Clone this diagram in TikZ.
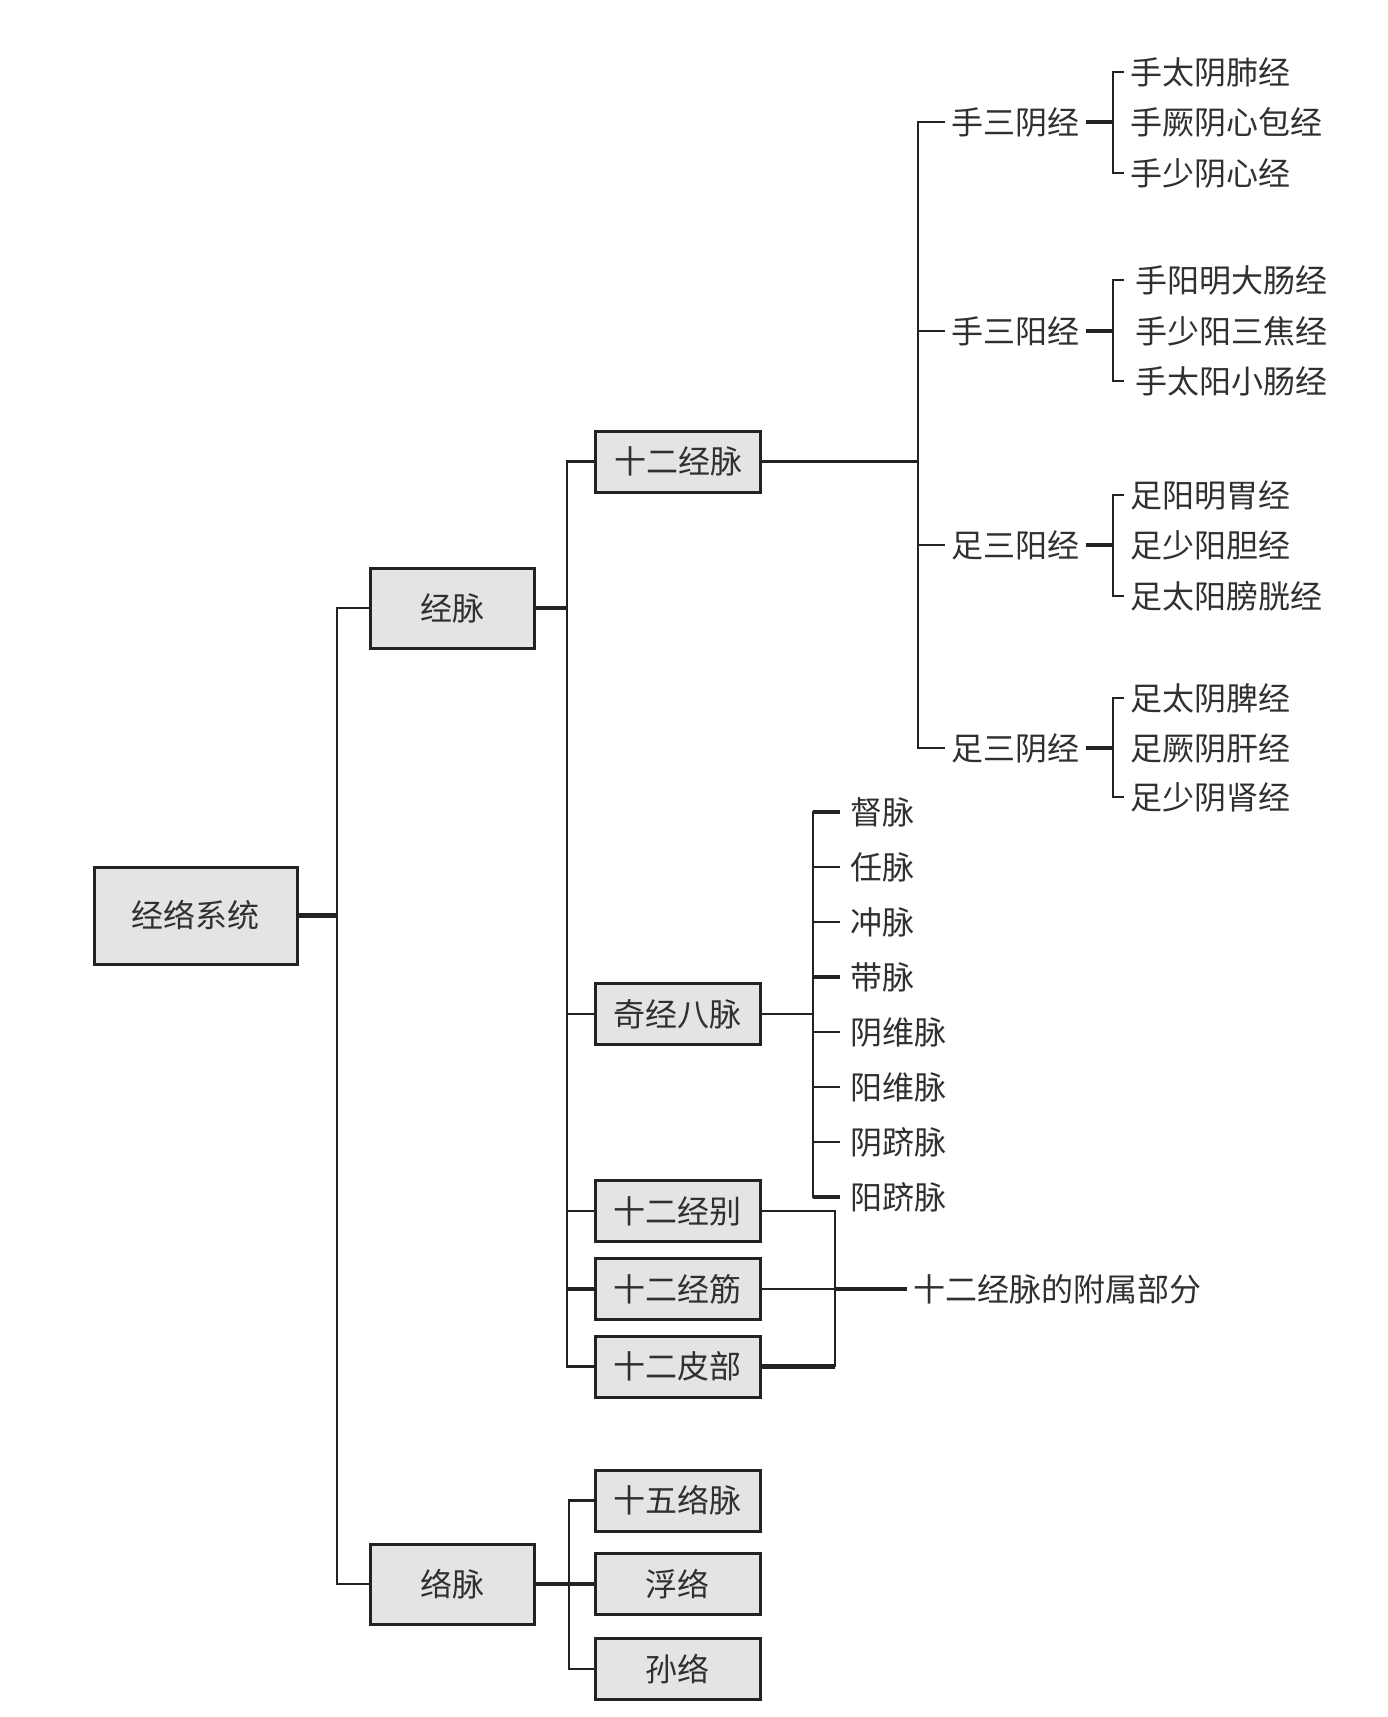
\documentclass[tikz,border=0pt]{standalone}
\usepackage{fontspec}
\setmainfont{Noto Sans CJK SC}
\definecolor{ln}{HTML}{222222}
\definecolor{bx}{HTML}{E3E4E6}
\definecolor{tx}{HTML}{303030}
\begin{document}
\begin{tikzpicture}[x=0.5pt,y=-0.5pt,
  txtfont/.style={font=\fontsize{16pt}{18pt}\selectfont, text=tx},
  box/.style={txtfont, draw=ln, line width=1.5pt, fill=bx, minimum width=82.5pt, minimum height=30.5pt, inner sep=0pt},
  midbox/.style={box, minimum width=82pt, minimum height=40pt},
  sysbox/.style={box, minimum width=101.5pt, minimum height=48.5pt},
  lbl/.style={txtfont, inner xsep=3pt, inner ysep=0pt, anchor=west},
  wire/.style={draw=ln, line width=1.25pt},
  wirebold/.style={draw=ln, line width=2.2pt}]
\useasboundingbox (0,0) rectangle (1387,1717);

% boxes
\node[sysbox] (sys) at (195.5,915.5) {经络系统};
\node[midbox] (jm) at (452,608) {经脉};
\node[midbox] (lm) at (452,1584) {络脉};
\node[box] (sejm) at (678,461.5) {十二经脉};
\node[box] (qj) at (677.5,1014) {奇经八脉};
\node[box] (jb) at (677.5,1211) {十二经别};
\node[box] (jj) at (677.5,1289) {十二经筋};
\node[box] (pb) at (677.5,1366.5) {十二皮部};
\node[box] (swl) at (677.5,1500.5) {十五络脉};
\node[box] (fl) at (677.5,1584) {浮络};
\node[box] (sl) at (677.5,1669) {孙络};

% trunk coordinates
\coordinate (ta) at (337,0);
\coordinate (tb) at (567,0);
\coordinate (tc) at (569,0);
\coordinate (td) at (918,0);
\coordinate (te) at (813,0);
\coordinate (tf) at (835,0);
\coordinate (bk) at (1113,0);
\coordinate (tk) at (1124,0);
\coordinate (tq) at (840,0);

% branch labels of the twelve meridians
\node[lbl] (g1) at (945,122) {手三阴经};
\node[lbl] (g2) at (945,331) {手三阳经};
\node[lbl] (g3) at (945,545) {足三阳经};
\node[lbl] (g4) at (945,748) {足三阴经};

% leaves
\node[lbl] (a1) at (1124,72) {手太阴肺经};
\node[lbl] (a2) at (1124,122) {手厥阴心包经};
\node[lbl] (a3) at (1124,173) {手少阴心经};
\node[lbl] (b1) at (1129,280) {手阳明大肠经};
\node[lbl] (b2) at (1129,331) {手少阳三焦经};
\node[lbl] (b3) at (1129,381) {手太阳小肠经};
\node[lbl] (c1) at (1124,495) {足阳明胃经};
\node[lbl] (c2) at (1124,545) {足少阳胆经};
\node[lbl] (c3) at (1124,596) {足太阳膀胱经};
\node[lbl] (d1) at (1124,698) {足太阴脾经};
\node[lbl] (d2) at (1124,748) {足厥阴肝经};
\node[lbl] (d3) at (1124,797) {足少阴肾经};

% eight extraordinary vessels
\node[lbl] (q1) at (844,812) {督脉};
\node[lbl] (q2) at (844,867) {任脉};
\node[lbl] (q3) at (844,922) {冲脉};
\node[lbl] (q4) at (844,977) {带脉};
\node[lbl] (q5) at (844,1032) {阴维脉};
\node[lbl] (q6) at (844,1087) {阳维脉};
\node[lbl] (q7) at (844,1142) {阴跻脉};
\node[lbl] (q8) at (844,1197) {阳跻脉};

\node[lbl] (fs) at (907,1289) {十二经脉的附属部分};

% level 1
\draw[wirebold] (sys.east) -- (sys.east -| ta);
\draw[wire] (jm.west) -- (jm.west -| ta) -- (lm.west -| ta) -- (lm.west);

% jingmai trunk
\draw[wirebold] (jm.east) -- (jm.east -| tb);
\draw[wire] (sejm.west) -- (sejm.west -| tb) -- (pb.west -| tb) -- (pb.west);
\draw[wire] (qj.west) -- (qj.west -| tb);
\draw[wire] (jb.west) -- (jb.west -| tb);
\draw[wirebold] (jj.west) -- (jj.west -| tb);

% luomai trunk
\draw[wirebold] (lm.east) -- (fl.west);
\draw[wire] (swl.west) -- (swl.west -| tc) -- (sl.west -| tc) -- (sl.west);

% appendages bracket
\draw[wire] (jb.east) -- (jb.east -| tf) -- (pb.east -| tf);
\draw[wirebold] (pb.east) -- (pb.east -| tf);
\draw[wire] (jj.east) -- (jj.east -| tf);
\draw[wirebold] (jj.east -| tf) -- (fs.west);

% twelve meridians
\draw[wire] (sejm.east) -- (sejm.east -| td);
\draw[wire] (g1.west) -- (g1.west -| td) -- (g4.west -| td) -- (g4.west);
\draw[wire] (g2.west -| td) -- (g2.west);
\draw[wire] (g3.west -| td) -- (g3.west);

\foreach \g/\x/\y/\z in {g1/a1/a2/a3, g2/b1/b2/b3, g3/c1/c2/c3, g4/d1/d2/d3}{
  \draw[wirebold] (\g.east) -- (\g.east -| bk);
  \draw[wire] (\x.west -| tk) -- (\x.west -| bk) -- (\z.west -| bk) -- (\z.west -| tk);
}

% eight vessels bracket
\draw[wire] (qj.east) -- (qj.east -| te);
\draw[wire] (q1.west -| tq) -- (q1.west -| te) -- (q8.west -| te) -- (q8.west -| tq);
\foreach \q in {q2,q3,q5,q6,q7}{
  \draw[wire] (\q.west -| te) -- (\q.west -| tq);
}
\foreach \q in {q1,q4,q8}{
  \draw[wirebold] (\q.west -| te) -- (\q.west -| tq);
}
\end{tikzpicture}
\end{document}
